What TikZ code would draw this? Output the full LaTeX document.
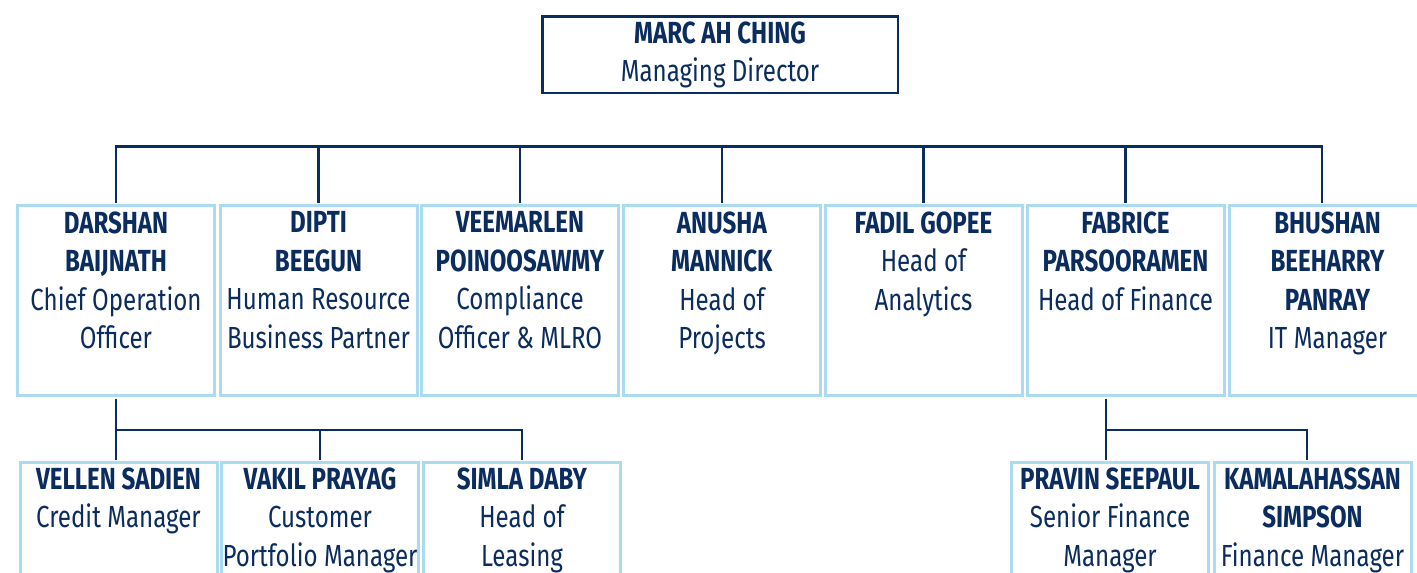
\documentclass[tikz,border=0pt]{standalone}
\usepackage{fontspec}
\setmainfont[FakeStretch=0.79]{Fira Sans}
\usetikzlibrary{calc}
\definecolor{navy}{HTML}{0B2C5E}
\definecolor{lblue}{HTML}{AADBF0}
\tikzset{
  topbox/.style={draw=navy, line width=2.5pt, minimum width=355.5pt, minimum height=76.5pt, inner sep=0pt},
  staffbox/.style={draw=lblue, line width=3pt, minimum width=197pt, minimum height=190pt, inner sep=0pt, fill=white},
  label/.style={anchor=north, inner sep=0pt, align=center, text=navy, font=\fontsize{30.5}{38.5}\selectfont},
  conn/.style={draw=navy, line width=2.2pt}
}
\begin{document}
\begin{tikzpicture}[x=1pt,y=-1pt]
\useasboundingbox (0,0) rectangle (1417,573);
\clip (0,0) rectangle (1417,573);
\fill[white] (0,0) rectangle (1417,573);

% top box
\node[topbox] (md) at (720,54.5) {};
\node[label] (mdt) at (720,21.5) {\textbf{MARC AH CHING}\\Managing Director};

% row 1
\node[staffbox] (b1) at (116,300.5) {};
\node[staffbox] (b2) at (318.5,300.5) {};
\node[staffbox] (b3) at (520,300.5) {};
\node[staffbox] (b4) at (722,300.5) {};
\node[staffbox] (b5) at (923.5,300.5) {};
\node[staffbox] (b6) at (1125.5,300.5) {};
\node[staffbox] (b7) at (1327.5,300.5) {};

\node[label] (t1) at (116,211.5) {\textbf{DARSHAN}\\\textbf{BAIJNATH}\\Chief Operation\\Officer};
\node[label] (t2) at (318.5,211.5) {\textbf{DIPTI}\\\textbf{BEEGUN}\\Human Resource\\Business Partner};
\node[label] (t3) at (520,211.5) {\textbf{VEEMARLEN}\\\textbf{POINOOSAWMY}\\Compliance\\Officer \& MLRO};
\node[label] (t4) at (722,211.5) {\textbf{ANUSHA}\\\textbf{MANNICK}\\Head of\\Projects};
\node[label] (t5) at (923.5,211.5) {\textbf{FADIL GOPEE}\\Head of\\Analytics};
\node[label] (t6) at (1125.5,211.5) {\textbf{FABRICE}\\\textbf{PARSOORAMEN}\\Head of Finance};
\node[label] (t7) at (1327.5,211.5) {\textbf{BHUSHAN}\\\textbf{BEEHARRY}\\\textbf{PANRAY}\\IT Manager};

% row 2
\node[staffbox] (c1) at (118.5,557.5) {};
\node[staffbox] (c2) at (320,557.5) {};
\node[staffbox] (c3) at (522,557.5) {};
\node[staffbox] (d1) at (1110,557.5) {};
\node[staffbox] (d2) at (1312.5,557.5) {};

\node[label] (u1) at (118.5,467.5) {\textbf{VELLEN SADIEN}\\Credit Manager};
\node[label] (u2) at (320,467.5) {\textbf{VAKIL PRAYAG}\\Customer\\Portfolio Manager};
\node[label] (u3) at (522,467.5) {\textbf{SIMLA DABY}\\Head of\\Leasing};
\node[label] (v1) at (1110,467.5) {\textbf{PRAVIN SEEPAUL}\\Senior Finance\\Manager};
\node[label] (v2) at (1312.5,467.5) {\textbf{KAMALAHASSAN}\\\textbf{SIMPSON}\\Finance Manager};

% connectors row 1
\coordinate (bar) at (0,146.5);
\coordinate (j7) at (1322,146.5);
\draw[conn] ([yshift=1.5pt]b1.north) -- (b1.north |- bar) -- (j7) -- ([yshift=1.5pt]j7 |- b7.north);
\foreach \n in {b2,b3,b4,b5,b6}{
  \draw[conn] ([yshift=1.5pt]\n.north) -- (\n.north |- bar);
}

% connectors left group
\coordinate (lb) at (0,430);
\draw[conn] ([yshift=-1.5pt]b1.south) -- ([yshift=1.5pt]b1.south |- c1.north);
\draw[conn] (b1.south |- lb) -| ([yshift=1.5pt]c3.north);
\draw[conn] ([yshift=1.5pt]c2.north) -- (c2.north |- lb);

% connectors right group
\coordinate (rj) at (1106,430);
\coordinate (rj2) at (1307,430);
\draw[conn] ([yshift=-1.5pt]rj |- b6.south) -- ([yshift=1.5pt]rj |- d1.north);
\draw[conn] (rj) -- (rj2) -- ([yshift=1.5pt]rj2 |- d2.north);
\end{tikzpicture}
\end{document}
